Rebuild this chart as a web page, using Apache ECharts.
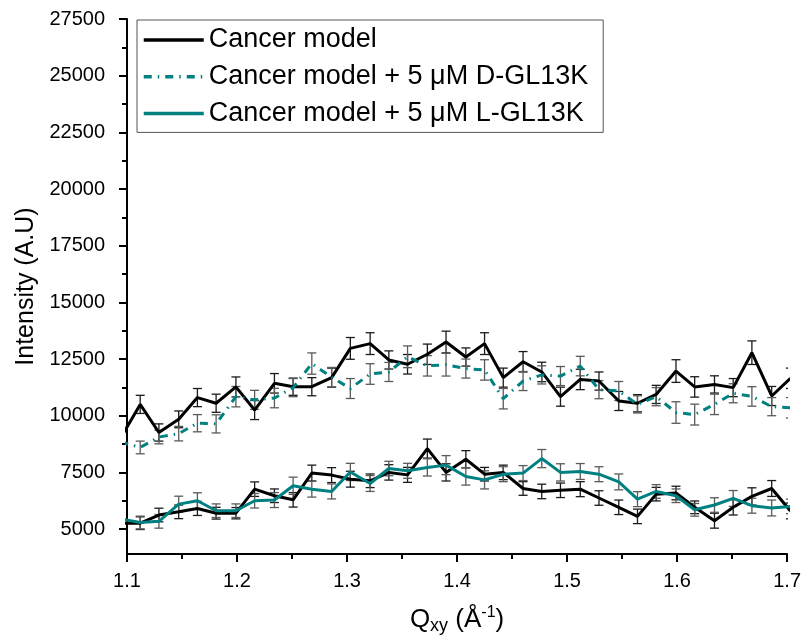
<!DOCTYPE html>
<html>
<head>
<meta charset="utf-8">
<script src="https://cdn.jsdelivr.net/npm/echarts@6/dist/echarts.min.js"></script>
<style>
  html, body { margin: 0; padding: 0; background: #fff; }
  #chart { width: 804px; height: 640px; }
</style>
</head>
<body>
<div id="chart"></div>
<script>
// In-plane scattering vector Qxy (Å^-1) of each sampled point
const qxy = [1.094, 1.112, 1.129, 1.147, 1.164, 1.181, 1.199, 1.216, 1.234, 1.251,
             1.268, 1.286, 1.303, 1.321, 1.338, 1.355, 1.373, 1.390, 1.408, 1.425,
             1.442, 1.460, 1.477, 1.494, 1.512, 1.529, 1.547, 1.564, 1.581, 1.599,
             1.616, 1.634, 1.651, 1.668, 1.686, 1.703];

// Upper pair: cancer model vs. cancer model + D-GL13K
const cancerUpper = [9000, 10500, 9260, 9840, 10800, 10550, 11270, 10250, 11430, 11280,
                     11280, 11680, 12970, 13180, 12460, 12270, 12710, 13250, 12590, 13180,
                     11680, 12380, 11930, 10840, 11600, 11530, 10650, 10550, 10940, 11970,
                     11270, 11380, 11240, 12780, 10870, 11650];
const cancerUpperErr = [450, 400, 380, 370, 400, 400, 440, 420, 430, 380,
                        400, 420, 480, 480, 400, 430, 450, 480, 400, 480,
                        420, 450, 430, 420, 450, 400, 420, 380, 400, 500,
                        450, 380, 400, 520, 420, 450];
const dGL13K = [8850, 8600, 9060, 9210, 9670, 9640, 10840, 10700, 10780, 11240,
                12300, 11700, 11200, 11840, 11930, 12600, 12200, 12250, 12080, 12020,
                10750, 11530, 11800, 11750, 12190, 11150, 11090, 10500, 10840, 10140,
                10050, 10500, 10990, 10850, 10400, 10350];
const dGL13KErr = [300, 280, 300, 320, 380, 400, 450, 420, 430, 400,
                   470, 430, 440, 455, 420, 480, 450, 500, 420, 450,
                   450, 420, 400, 420, 430, 400, 420, 380, 400, 475,
                   460, 450, 420, 430, 400, 450];

// Lower pair: cancer model vs. cancer model + L-GL13K
const cancerLower = [5260, 5260, 5620, 5760, 5910, 5700, 5700, 6760, 6470, 6290,
                     7470, 7380, 7200, 7130, 7500, 7390, 8550, 7500, 8080, 7420,
                     7500, 6790, 6660, 6710, 6760, 6370, 5960, 5560, 6540, 6590,
                     5960, 5370, 5960, 6440, 6790, 5800];
const cancerLowerErr = [280, 280, 300, 300, 310, 260, 250, 320, 300, 320,
                        350, 330, 350, 300, 340, 330, 420, 380, 380, 300,
                        320, 300, 320, 320, 330, 320, 320, 320, 300, 300,
                        280, 330, 340, 380, 350, 350];
const lGL13K = [5450, 5290, 5340, 6100, 6250, 5810, 5810, 6250, 6280, 6910,
                6760, 6660, 7520, 7010, 7670, 7570, 7720, 7820, 7320, 7170,
                7420, 7470, 8110, 7500, 7540, 7420, 7080, 6320, 6660, 6470,
                5850, 6060, 6350, 6030, 5930, 6000];
const lGL13KErr = [280, 280, 300, 350, 350, 300, 300, 320, 330, 380,
                   350, 330, 380, 350, 320, 330, 380, 420, 380, 400,
                   330, 330, 400, 380, 350, 330, 350, 330, 300, 300,
                   280, 320, 350, 330, 350, 320];

// Axis ticks
const yMajorTicks = [5000, 7500, 10000, 12500, 15000, 17500, 20000, 22500, 25000, 27500];
const yMinorTicks = [6250, 8750, 11250, 13750, 16250, 18750, 21250, 23750, 26250];

const names = {
  cancer: 'Cancer model',
  d: 'Cancer model + 5 μM D-GL13K',
  l: 'Cancer model + 5 μM L-GL13K'
};

const BLACK = '#000000';
const TEAL = '#008080';
const FONT = '"Liberation Sans", Arial, sans-serif';

function pairs(vals) {
  return vals.map((v, i) => [qxy[i], v]);
}
function errData(vals, errs) {
  return vals.map((v, i) => [qxy[i], v - errs[i], v + errs[i]]);
}

function errorBarSeries(id, vals, errs, color) {
  return {
    type: 'custom',
    id: id,
    name: id,
    clip: true,
    z: 2,
    silent: true,
    data: errData(vals, errs),
    encode: { x: 0, y: [1, 2] },
    renderItem: function (params, api) {
      const x = api.value(0);
      const lo = api.coord([x, api.value(1)]);
      const hi = api.coord([x, api.value(2)]);
      const half = 4.5;
      const style = { stroke: color, lineWidth: 1.3 };
      return {
        type: 'group',
        children: [
          { type: 'line', shape: { x1: lo[0], y1: lo[1], x2: hi[0], y2: hi[1] }, style: style },
          { type: 'line', shape: { x1: lo[0] - half, y1: lo[1], x2: lo[0] + half, y2: lo[1] }, style: style },
          { type: 'line', shape: { x1: hi[0] - half, y1: hi[1], x2: hi[0] + half, y2: hi[1] }, style: style }
        ]
      };
    }
  };
}

function lineSeries(name, vals, color, type) {
  return {
    type: 'line',
    name: name,
    data: pairs(vals),
    symbol: 'none',
    clip: true,
    z: 3,
    lineStyle: { color: color, width: 3, type: type || 'solid' },
    itemStyle: { color: color }
  };
}

const chart = echarts.init(document.getElementById('chart'), null, { renderer: 'canvas' });

chart.setOption({
  animation: false,
  backgroundColor: '#ffffff',
  textStyle: { fontFamily: FONT },
  grid: { left: 127, right: 15, top: 19, bottom: 85, containLabel: false },
  legend: {
    left: 137,
    top: 20,
    orient: 'vertical',
    data: [names.cancer, names.d, names.l],
    itemWidth: 60,
    itemHeight: 14,
    itemGap: 6.7,
    padding: [5, 15, 4, 5],
    borderColor: '#555555',
    borderWidth: 1,
    itemStyle: { opacity: 0 },
    lineStyle: { width: 3.5 },
    textStyle: { fontFamily: FONT, fontSize: 27, color: '#000', lineHeight: 30 }
  },
  xAxis: {
    type: 'value',
    min: 1.1,
    max: 1.7,
    interval: 0.1,
    name: '{a|Q}{sub|xy}{a| (Å}{sup|-1}{a|)}',
    nameLocation: 'middle',
    nameGap: 51,
    nameTextStyle: {
      color: '#000',
      rich: {
        a: { fontFamily: FONT, fontSize: 26, color: '#000' },
        sub: { fontFamily: FONT, fontSize: 18, color: '#000', verticalAlign: 'bottom', padding: [12, 0, 0, 0] },
        sup: { fontFamily: FONT, fontSize: 16, color: '#000', verticalAlign: 'top', padding: [0, 0, 12, 0] }
      }
    },
    axisLine: { show: true, onZero: false, lineStyle: { color: '#000', width: 2 } },
    axisTick: { show: true, length: 8, lineStyle: { color: '#000', width: 2 } },
    minorTick: { show: true, splitNumber: 2, length: 5, lineStyle: { color: '#000', width: 2 } },
    axisLabel: {
      margin: 17,
      fontSize: 20,
      color: '#000',
      fontFamily: FONT,
      formatter: v => v.toFixed(1)
    },
    splitLine: { show: false },
    minorSplitLine: { show: false }
  },
  yAxis: [
    {
      type: 'value',
      min: 3900,
      max: 27500,
      position: 'left',
      name: 'Intensity (A.U)',
      nameLocation: 'middle',
      nameGap: 78,
      nameTextStyle: { fontFamily: FONT, fontSize: 25, color: '#000' },
      axisLine: { show: true, onZero: false, lineStyle: { color: '#000', width: 2 } },
      axisTick: { show: true, length: 8, customValues: yMajorTicks, lineStyle: { color: '#000', width: 2 } },
      axisLabel: {
        margin: 22, fontSize: 20, color: '#000', fontFamily: FONT,
        customValues: yMajorTicks,
        formatter: v => String(v)
      },
      splitLine: { show: false }
    },
    {
      type: 'value',
      min: 3900,
      max: 27500,
      position: 'left',
      axisLine: { show: false },
      axisTick: { show: true, length: 5, customValues: yMinorTicks, lineStyle: { color: '#000', width: 2 } },
      axisLabel: { show: false, customValues: yMinorTicks },
      splitLine: { show: false }
    }
  ],
  series: [
    lineSeries(names.cancer, cancerUpper, BLACK),
    lineSeries(names.d, dGL13K, TEAL, [8, 6, 1.5, 6]),
    lineSeries(names.cancer, cancerLower, BLACK),
    lineSeries(names.l, lGL13K, TEAL),
    errorBarSeries('errCancerUpper', cancerUpper, cancerUpperErr, '#1a1a1a'),
    errorBarSeries('errD', dGL13K, dGL13KErr, '#5a5a5a'),
    errorBarSeries('errCancerLower', cancerLower, cancerLowerErr, '#1a1a1a'),
    errorBarSeries('errL', lGL13K, lGL13KErr, '#5a5a5a')
  ]
});
</script>
</body>
</html>
